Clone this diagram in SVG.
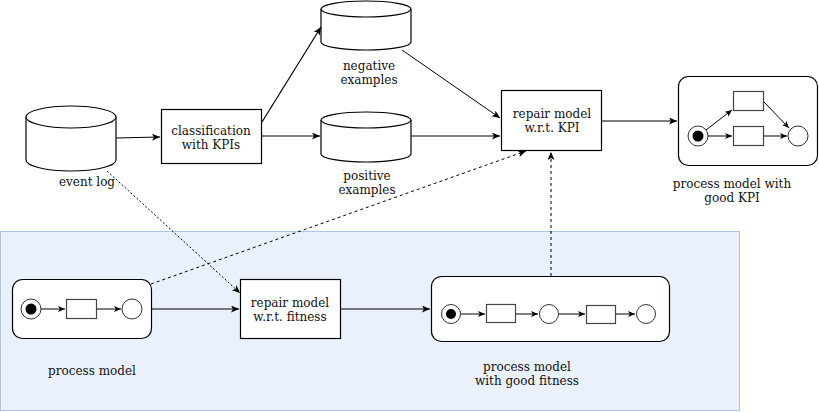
<svg xmlns="http://www.w3.org/2000/svg" width="819" height="412" viewBox="0 0 819 412">
<defs>
<marker id="arr" markerUnits="userSpaceOnUse" markerWidth="10" markerHeight="8" refX="8" refY="3.5" orient="auto">
<path d="M0,0 L8,3.5 L0,7 L2,3.5 Z" fill="#000"/>
</marker>
<marker id="arrs" markerUnits="userSpaceOnUse" markerWidth="9" markerHeight="8" refX="7" refY="3" orient="auto">
<path d="M0,0 L7,3 L0,6 L1.8,3 Z" fill="#000"/>
</marker>
</defs>
<style>
text{font-family:"DejaVu Serif","Liberation Serif",serif;font-size:12px;fill:#111;text-anchor:middle}
.box{fill:#fff;stroke:#000;stroke-width:1.2}
.cyl{fill:#fff;stroke:#000;stroke-width:1.2}
.pm{fill:#fff;stroke:#000;stroke-width:1.2}
.pl{fill:#fff;stroke:#333;stroke-width:1}
.tr{fill:#fff;stroke:#444;stroke-width:1.2}
.tok{fill:#000}
.c{fill:none;stroke:#000;stroke-width:1.2}
.ci{fill:none;stroke:#000;stroke-width:1}
.d{fill:none;stroke:#000;stroke-width:1;stroke-dasharray:3,3}
.dd{fill:none;stroke:#000;stroke-width:1;stroke-dasharray:2,2}
</style>
<rect id="area" x="0.5" y="231.5" width="739" height="179" fill="#EAF1FC" stroke="#B0C4E4" stroke-width="1"/>

<g id="event-log">
<path class="cyl" d="M26,117 A45,11 0 0 1 116,117 L116,160 A45,11 0 0 1 26,160 Z"/>
<path class="cyl" d="M26,117 A45,11 0 0 0 116,117" fill="none"/>
<text x="87" y="186">event log</text>
</g>

<g id="classification">
<rect class="box" x="161.5" y="109.5" width="100" height="54"/>
<text x="211" y="135">classification</text>
<text x="211" y="149">with KPIs</text>
</g>

<g id="negative">
<path class="cyl" d="M321,9 A45,8 0 0 1 411,9 L411,42 A45,8 0 0 1 321,42 Z"/>
<path class="cyl" d="M321,9 A45,8 0 0 0 411,9" fill="none"/>
<text x="369" y="70">negative</text>
<text x="369" y="84">examples</text>
</g>

<g id="positive">
<path class="cyl" d="M321,120 A45,8 0 0 1 411,120 L411,154 A45,8 0 0 1 321,154 Z"/>
<path class="cyl" d="M321,120 A45,8 0 0 0 411,120" fill="none"/>
<text x="367" y="180">positive</text>
<text x="367" y="194">examples</text>
</g>

<g id="repair-kpi">
<rect class="box" x="501.5" y="90.5" width="100" height="60"/>
<text x="552" y="118">repair model</text>
<text x="552" y="132">w.r.t. KPI</text>
</g>

<g id="good-kpi">
<rect class="pm" x="678.5" y="76.5" width="139" height="89" rx="10"/>
<circle class="pl" cx="698" cy="136" r="10"/>
<circle class="tok" cx="698" cy="136" r="5.5"/>
<rect class="tr" x="733.5" y="91.5" width="30" height="19"/>
<rect class="tr" x="733.5" y="126.5" width="30" height="19"/>
<circle class="pl" cx="798" cy="136" r="10"/>
<path class="ci" d="M706,130 L732,110" marker-end="url(#arrs)"/>
<path class="ci" d="M708,136 L732,136" marker-end="url(#arrs)"/>
<path class="ci" d="M764,102 L789,128" marker-end="url(#arrs)"/>
<path class="ci" d="M764,136 L787,136" marker-end="url(#arrs)"/>
<text x="732" y="188">process model with</text>
<text x="732" y="202">good KPI</text>
</g>

<g id="process-model">
<rect class="pm" x="12.5" y="279.5" width="139" height="59" rx="10"/>
<circle class="pl" cx="31" cy="309" r="10"/>
<circle class="tok" cx="31" cy="309" r="5.5"/>
<rect class="tr" x="66.5" y="299.5" width="30" height="19"/>
<circle class="pl" cx="132" cy="309" r="10"/>
<path class="ci" d="M41,309 L65,309" marker-end="url(#arrs)"/>
<path class="ci" d="M97,309 L121,309" marker-end="url(#arrs)"/>
<text x="92" y="375">process model</text>
</g>

<g id="repair-fitness">
<rect class="box" x="240.5" y="279.5" width="100" height="59"/>
<text x="290" y="307">repair model</text>
<text x="290" y="321">w.r.t. fitness</text>
</g>

<g id="good-fitness">
<rect class="pm" x="431.5" y="276.5" width="238" height="65" rx="10"/>
<circle class="pl" cx="451" cy="314" r="9.5"/>
<circle class="tok" cx="451" cy="314" r="5"/>
<rect class="tr" x="486.5" y="304.5" width="29" height="18"/>
<circle class="pl" cx="549" cy="314" r="9.5"/>
<rect class="tr" x="586.5" y="305.5" width="29" height="18"/>
<circle class="pl" cx="646" cy="314" r="9.5"/>
<path class="ci" d="M461,314 L485,314" marker-end="url(#arrs)"/>
<path class="ci" d="M516,314 L538,314" marker-end="url(#arrs)"/>
<path class="ci" d="M559,314 L585,314" marker-end="url(#arrs)"/>
<path class="ci" d="M616,314 L635,314" marker-end="url(#arrs)"/>
<text x="527" y="371">process model</text>
<text x="527" y="385">with good fitness</text>
</g>

<g id="connectors">
<path class="c" d="M116,138 L160,137" marker-end="url(#arr)"/>
<path class="c" d="M262,122 L321,27" marker-end="url(#arr)"/>
<path class="c" d="M262,136 L320,136" marker-end="url(#arr)"/>
<path class="ci" d="M402,50 L500,118" marker-end="url(#arr)"/>
<path class="c" d="M411,136 L500,136" marker-end="url(#arr)"/>
<path class="c" d="M602,121 L677,121" marker-end="url(#arr)"/>
<path class="dd" d="M107,171 L240,293" marker-end="url(#arr)"/>
<path class="d" d="M151,284 L526,151" marker-end="url(#arr)"/>
<path class="c" d="M152,309 L239,309" marker-end="url(#arr)"/>
<path class="c" d="M340,309 L430,309" marker-end="url(#arr)"/>
<path class="d" d="M551,276 L551,152" marker-end="url(#arr)"/>
</g>
</svg>
